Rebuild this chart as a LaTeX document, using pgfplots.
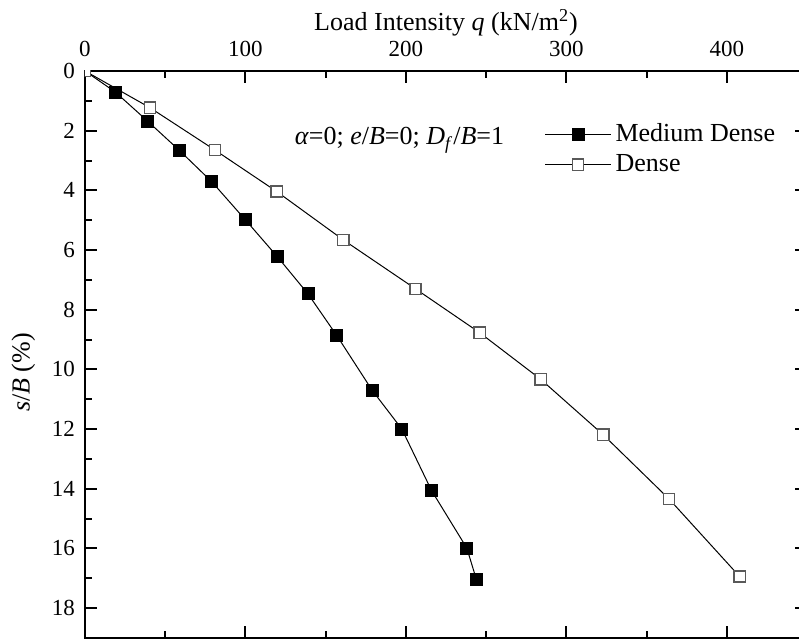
\documentclass[border=0pt]{standalone}
\usepackage{fontspec}
\setmainfont{Liberation Serif}
\usepackage{pgfplots}
\pgfplotsset{compat=1.18}
\begin{document}
\begin{tikzpicture}
\begin{axis}[
  scale only axis,
  width=361pt, height=283.5pt,
  xmin=0, xmax=450, ymin=0, ymax=19,
  y dir=reverse,
  clip marker paths=true,
  xtick={0,100,200,300,400}, minor xtick={50,150,250,350},
  ytick={0,2,...,18}, minor ytick={1,3,...,17},
  tick align=inside,
  xtick pos=both, ytick pos=both,
  xticklabel pos=right, yticklabel pos=left,
  major tick length=6pt, minor tick length=3.5pt,
  axis line style={line width=1pt},
  every tick/.append style={line width=1pt, black},
  ticklabel style={font=\fontsize{11.5}{13}\selectfont},
  xticklabel style={yshift=3.5pt},
  yticklabel style={xshift=-1.5pt},
  /pgf/number format/assume math mode=true,
  xlabel={Load Intensity \textit{q} (kN/m\textsuperscript{2})},
  ylabel={\textit{s}/\textit{B} (\%)},
  label style={font=\fontsize{13}{15}\selectfont},
  xlabel style={yshift=-4pt},
  ylabel style={xshift=-9pt, yshift=1.5pt},
  legend style={draw=none, fill=none, at={(axis description cs:0.636,0.915)}, anchor=north west,
    font=\fontsize{13}{15}\selectfont, row sep=1pt, inner sep=0pt},
  legend cell align=left,
  legend image code/.code={\draw[mark repeat=2,mark phase=2] plot coordinates {(0pt,0pt) (16.5pt,0pt) (33pt,0pt)};},
]
\addplot[black, line width=0.5pt, mark=square*, mark size=3pt, mark options={fill=black, solid}] coordinates {
(0,0) (19,0.71) (39,1.68) (59,2.67) (79,3.71) (100,4.99) (120,6.23) (139,7.47) (157,8.87)
(179,10.7) (197.5,12.0) (216,14.06) (238,15.99) (244,17.05)
};
\addlegendentry{Medium Dense}
\addplot[black, line width=0.5pt, mark=square*, mark size=2.8pt, mark options={fill=white, draw=black!65, line width=0.7pt, solid}] coordinates {
(0,0) (40.5,1.23) (81,2.65) (119.5,4.04) (161,5.66) (206,7.3) (246,8.77) (284,10.33) (323,12.19) (364,14.34) (408,16.94)
};
\addlegendentry{Dense}
\node[font=\fontsize{13}{15}\selectfont] at (axis cs:196,2.32) {\textit{α}=0; \textit{e}/\textit{B}=0; \textit{D}\textsubscript{\textit{f}}/\textit{B}=1};
\coordinate (TL) at (axis cs:0,0);
\coordinate (BL) at (axis cs:0,19);
\end{axis}
\pgfresetboundingbox
\path ([xshift=-42.5pt,yshift=35.5pt]TL) rectangle ([xshift=357pt,yshift=-0.5pt]BL);
\end{tikzpicture}
\end{document}
